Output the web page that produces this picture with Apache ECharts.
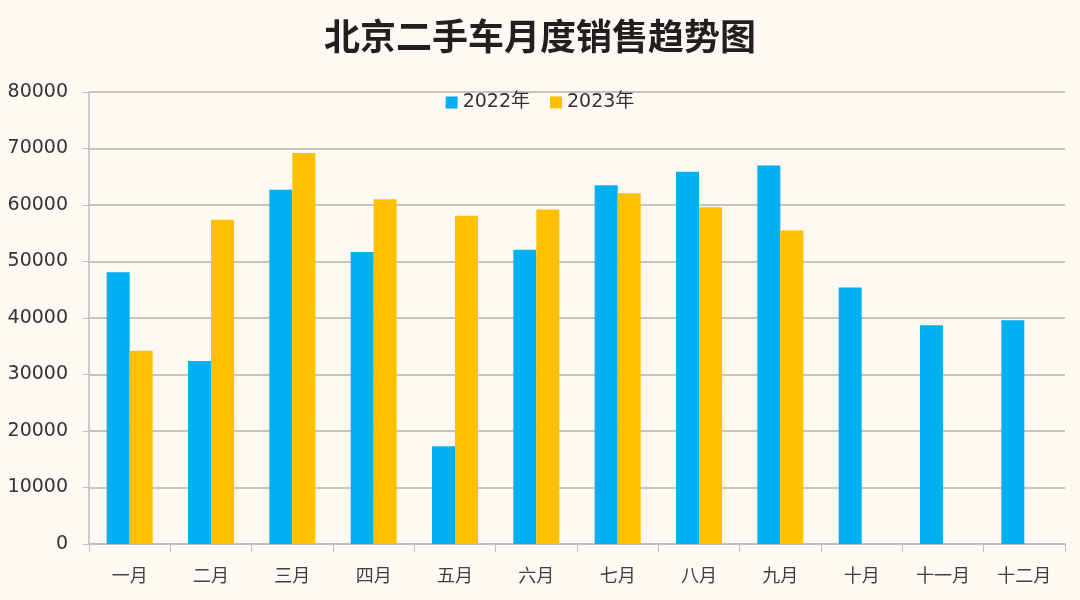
<!DOCTYPE html>
<html>
<head>
<meta charset="utf-8">
<script src="https://cdn.jsdelivr.net/npm/echarts@6/dist/echarts.min.js"></script>
<style>
html,body{margin:0;padding:0;background:#FEFAF3;}
#main{width:1080px;height:600px;}
</style>
</head>
<body>
<div id="main"></div>
<script>
const categories = ['一月','二月','三月','四月','五月','六月','七月','八月','九月','十月','十一月','十二月'];
const sales2022 = [48100, 32400, 62700, 51700, 17300, 52100, 63500, 65900, 67000, 45400, 38700, 39600];
const sales2023 = [34200, 57400, 69200, 61000, 58100, 59200, 62100, 59600, 55500, null, null, null];
const seriesNames = ['2022年', '2023年'];
const titleText = '北京二手车月度销售趋势图';

const chart = echarts.init(document.getElementById('main'));
chart.setOption({
  backgroundColor: '#FEFAF3',
  animation: false,
  title: {
    text: titleText,
    left: 'center',
    top: 13,
    textStyle: {fontFamily: 'Noto Sans CJK SC', fontWeight: 'bold', fontSize: 36, color: '#231F20'}
  },
  legend: {
    data: seriesNames,
    top: 88,
    left: 'center',
    itemWidth: 12,
    itemHeight: 12,
    itemGap: 20,
    icon: 'rect',
    textStyle: {fontFamily: 'DejaVu Sans, Noto Sans CJK SC', fontSize: 19, color: '#333333'}
  },
  grid: {left: 89, right: 15, top: 92, bottom: 56},
  xAxis: {
    type: 'category',
    data: categories,
    axisLine: {lineStyle: {color: '#BFBFBF', width: 1.5}},
    axisTick: {show: true, length: 8, lineStyle: {color: '#BFBFBF'}},
    axisLabel: {fontFamily: 'Noto Sans CJK SC', fontSize: 18, color: '#404040', margin: 22}
  },
  yAxis: {
    type: 'value',
    min: 0,
    max: 80000,
    interval: 10000,
    axisLine: {show: true, lineStyle: {color: '#BFBFBF', width: 1.5}},
    axisTick: {show: true, length: 6, lineStyle: {color: '#BFBFBF'}},
    splitLine: {lineStyle: {color: '#B4B0AC', width: 1.5}},
    axisLabel: {fontFamily: 'DejaVu Sans', fontSize: 19, color: '#333333', margin: 21,
      formatter: function (v) { return String(v); }}
  },
  series: [
    {name: seriesNames[0], type: 'bar', data: sales2022, barWidth: 23, barGap: '0%',
     itemStyle: {color: '#00B0F0'}},
    {name: seriesNames[1], type: 'bar', data: sales2023, barWidth: 23,
     itemStyle: {color: '#FFC000'}}
  ]
});
</script>
</body>
</html>
